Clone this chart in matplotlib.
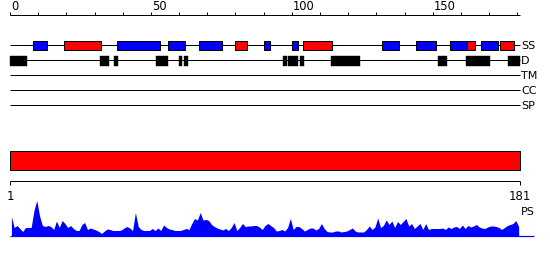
import numpy as np
import matplotlib
matplotlib.use('Agg')
import matplotlib.pyplot as plt
from matplotlib.patches import Rectangle

####################################################################################################
# Data

seq_len = 181
ruler_ticks = np.arange(0, 181, 10)
ruler_labels = [0, 50, 100, 150]

# secondary structure segments (start, end, kind)  E = blue, H = red
ss_start = [8, 19, 38, 56, 67, 80, 90, 100, 104, 132, 144, 156, 162.1, 167, 174]
ss_end = [13, 32.2, 53.1, 62, 75.1, 84, 92.2, 102.1, 114.2, 137.9, 151.1, 162.1, 164.9, 173.1, 179]
ss_kind = ['E', 'H', 'E', 'E', 'E', 'H', 'E', 'E', 'H', 'E', 'E', 'E', 'H', 'E', 'H']

# disorder segments
d_start = [0, 32, 36.9, 51.9, 60, 61.7, 96.9, 98.8, 102.9, 114, 151.9, 161.8, 176.7]
d_end = [5.9, 35, 38.3, 56, 61, 63, 98.4, 102.1, 104.2, 124.2, 155.1, 170.2, 181]

track_names = ['SS', 'D', 'TM', 'CC', 'SP']

# per-residue PS profile (1..181)
ps_score = [18.8, 8, 10, 7, 4, 8, 8, 8, 25, 35, 19.5, 10, 9, 10, 9, 6, 14.5, 8, 15, 12,
            8, 10, 7, 5, 5, 11, 13, 6, 7.5, 6.5, 5.5, 4, 2, 4.5, 6.5, 6, 5, 5, 5, 5.5,
            7.5, 9, 7.5, 5, 23, 9, 6, 5, 5, 5, 7, 5, 7.5, 5, 10.5, 8, 6.5, 6, 5, 5,
            5, 6, 7, 6, 12, 17, 15.5, 23, 15.5, 16, 15, 11, 9, 7.5, 6.5, 5.5, 7, 5, 8, 13,
            5, 8, 12, 9, 9.5, 9.5, 10, 10, 8.5, 6, 10, 12, 10, 8, 4.5, 5, 6, 4.5, 8, 17,
            6, 9, 9, 7, 4.5, 6, 7.5, 7.5, 5.5, 7, 12, 7, 4, 3.5, 3.5, 4.5, 4.5, 3.5, 4, 4.5,
            6, 7.5, 4.5, 3.5, 3.5, 3.5, 6, 9.5, 6, 8.5, 17.5, 8, 10, 15.5, 11, 14.5, 8, 14, 11, 14,
            17, 9.5, 12, 7, 9.5, 12, 6, 12, 6, 7, 7, 7, 7, 7.5, 6, 8.5, 7, 8.5, 9, 7,
            10.5, 7, 10, 8.5, 9.5, 11, 8.5, 7.5, 7, 8.5, 9.5, 9.5, 9, 8, 6, 8, 10, 11, 12, 15,
            9]

####################################################################################################

BLUE = '#0000ff'
RED = '#ff0000'
px = 0.72  # one pixel in points

fig = plt.figure(figsize=(5.5, 2.6), dpi=100)
ax = fig.add_axes([0, 0, 1, 1])
# x in residues, y in pixels from the top
ax.set_xlim(-10 / 2.818, 540 / 2.818)
ax.set_ylim(260, 0)
ax.axis('off')

# top ruler
y_rule = 15
ax.hlines(y_rule, 0, seq_len, color='black', lw=px)
ax.vlines(ruler_ticks, y_rule - 3.5, y_rule, color='black', lw=px)
for v in ruler_labels:
    ax.text(v + 0.3, 10.5, str(v), fontsize=8.3, ha='left', va='baseline', color='black')

# tracks
track_y = [45, 60, 75, 90, 105]
for name, ty in zip(track_names, track_y):
    ax.hlines(ty, 0, seq_len, color='black', lw=px, zorder=1)
    ax.text(seq_len + 0.3, ty, name, fontsize=8, ha='left', va='center_baseline', color='black')

for s, e, k in zip(ss_start, ss_end, ss_kind):
    ax.add_patch(Rectangle((s, 40.5), e - s, 9.5, facecolor=BLUE if k == 'E' else RED,
                           edgecolor='black', lw=px, zorder=2))

for s, e in zip(d_start, d_end):
    ax.add_patch(Rectangle((s, 55.5), e - s, 10, facecolor='black', edgecolor='black',
                           lw=0.3, zorder=2))

# domain bar
ax.add_patch(Rectangle((0, 150.5), seq_len, 19.5, facecolor=RED, edgecolor='black', lw=px))

# lower ruler
y_r2 = 180.5
ax.hlines(y_r2, 0, seq_len, color='black', lw=px)
ax.vlines([0, seq_len], y_r2, y_r2 + 4, color='black', lw=px)
ax.text(0.2, 199.5, '1', fontsize=8.5, ha='center', va='baseline')
ax.text(seq_len - 0.2, 199.5, str(seq_len), fontsize=8.5, ha='center', va='baseline')
ax.text(seq_len + 0.3, 211, 'PS', fontsize=8, ha='left', va='center_baseline')

# PS profile
base = 235.5
xs = np.arange(1, seq_len + 1) - 0.5
ps = np.array(ps_score)
ax.fill_between(xs, base, base - ps, color=BLUE, lw=0)
ax.hlines(base, 0, 186, color=BLUE, lw=1.2 * px)

plt.savefig('out.png', dpi=100)
